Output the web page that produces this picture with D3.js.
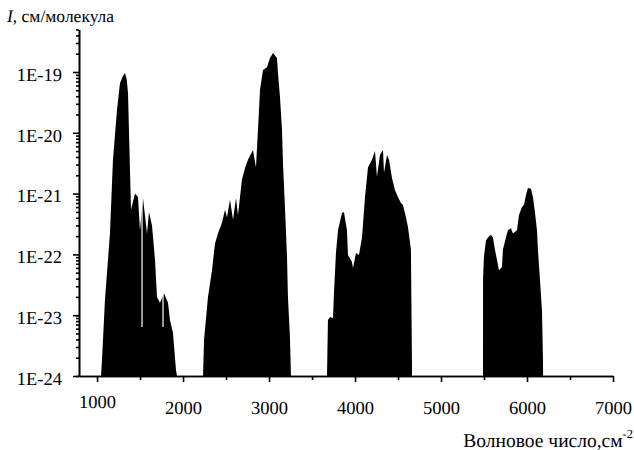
<!DOCTYPE html>
<meta charset="utf-8">
<html>
<head>
  <style>
    body { margin: 0; background: #fff; }
    svg { text-rendering: geometricPrecision; }
    .axis path, .axis line { stroke: #000; stroke-width: 1.6px; }
    .band { fill: #000; }
    .gap { stroke: #fff; stroke-width: 1.2px; }
  </style>
  <script src="https://d3js.org/d3.v7.min.js"></script>
</head>
<body>
  <svg width="634" height="450"></svg>
  <script>

    // envelope of each absorption band: wavenumber (cm-1) and intensity (cm/molecule)
    var band1Wn = [1046, 1057, 1092, 1150, 1185, 1232, 1267, 1300, 1325, 1345, 1360, 1383, 1395, 1441, 1476, 1499, 1534, 1581, 1604, 1639, 1674, 1697, 1732, 1778, 1825, 1848, 1883, 1918, 1930];
    var band1I  = [1e-24, 1.8e-24, 1.8e-23, 2.2e-22, 3.6e-21, 2.4e-20, 6.6e-20, 8.5e-20, 9.6e-20, 7.5e-20, 4.5e-20, 2.4e-21, 5.4e-22, 1.0e-21, 8.8e-22, 2.5e-22, 8.5e-22, 2.2e-22, 5.0e-22, 3.0e-22, 8.1e-23, 2.0e-23, 1.6e-23, 2.3e-23, 1.6e-23, 8.3e-24, 5.1e-24, 1.25e-24, 1e-24];

    var band2Wn = [2232, 2244, 2290, 2337, 2371, 2406, 2453, 2488, 2511, 2546, 2581, 2616, 2639, 2685, 2720, 2755, 2813, 2848, 2871, 2895, 2930, 2976, 3011, 3046, 3092, 3104, 3127, 3151, 3162, 3185, 3209, 3220, 3243, 3255];
    var band2I  = [1e-24, 3.9e-24, 2.0e-23, 5.5e-23, 1.5e-22, 2.2e-22, 3.3e-22, 5.4e-22, 4.1e-22, 7.9e-22, 3.7e-22, 8.5e-22, 4.4e-22, 1.7e-21, 2.6e-21, 3.6e-21, 5.2e-21, 2.7e-21, 1.1e-20, 5.1e-20, 1.08e-19, 1.2e-19, 1.7e-19, 2.06e-19, 1.7e-19, 9.6e-20, 3.9e-20, 1.1e-20, 3.2e-21, 6.0e-22, 9.1e-23, 2.0e-23, 4.4e-24, 1e-24];

    var band3Wn = [3674, 3685, 3709, 3744, 3755, 3778, 3802, 3848, 3871, 3906, 3918, 3964, 3976, 4011, 4046, 4081, 4116, 4151, 4197, 4232, 4255, 4290, 4325, 4337, 4372, 4395, 4430, 4464, 4499, 4534, 4557, 4592, 4616, 4650, 4662, 4663];
    var band3I  = [1e-24, 8.3e-24, 9.3e-24, 9.0e-24, 2.3e-23, 1.05e-22, 2.5e-22, 4.8e-22, 5.0e-22, 2.5e-22, 9.8e-23, 7.5e-23, 6.0e-23, 1.05e-22, 9.8e-23, 1.9e-22, 8.8e-22, 2.7e-21, 3.6e-21, 5.0e-21, 1.9e-21, 4.3e-21, 5.2e-21, 2.2e-21, 4.3e-21, 3.6e-21, 1.8e-21, 1.15e-21, 8.8e-22, 7.0e-22, 6.5e-22, 4.1e-22, 2.8e-22, 1.2e-22, 1.8e-24, 1e-24];

    var band4Wn = [5488, 5489, 5499, 5523, 5546, 5581, 5604, 5627, 5651, 5674, 5709, 5720, 5755, 5778, 5813, 5837, 5883, 5906, 5941, 5965, 5988, 6011, 6046, 6069, 6093, 6116, 6127, 6151, 6174, 6186, 6187];
    var band4I  = [1e-24, 4.2e-23, 9.1e-23, 1.7e-22, 1.9e-22, 2.1e-22, 1.9e-22, 1.2e-22, 8.1e-23, 5.5e-23, 6.2e-23, 1.2e-22, 1.9e-22, 2.5e-22, 2.7e-22, 2.2e-22, 2.5e-22, 4.4e-22, 6.0e-22, 6.5e-22, 9.5e-22, 1.24e-21, 1.2e-21, 8.8e-22, 4.8e-22, 2.5e-22, 1.2e-22, 3.8e-23, 1.2e-23, 1.8e-24, 1e-24];

    // thin white gaps between lines inside the first band
    var gapWn  = [1523, 1767];
    var gapTop = [8.5e-22, 2.3e-23];
    var gapBot = [6.4e-24, 6.4e-24];

    var xMajor = [1000, 2000, 3000, 4000, 5000, 6000, 7000];
    var xMinor = [1500, 2500, 3500, 4500, 5500, 6500];
    var yMajor = [1e-24, 1e-23, 1e-22, 1e-21, 1e-20, 1e-19];
    var yLabels = ["1E-24", "1E-23", "1E-22", "1E-21", "1E-20", "1E-19"];

    var font = "'Liberation Serif', 'Times New Roman', serif";

    var svg = d3.select("svg");

    var x = d3.scaleLinear().domain([790, 7000]).range([79, 613]);
    var y = d3.scaleLog().domain([1e-24, 5e-19]).range([376, 29.5]);

    var area = d3.area()
        .x(function(d) { return x(d[0]); })
        .y0(y(1e-24))
        .y1(function(d) { return y(d[1]); });

    [[band1Wn, band1I], [band2Wn, band2I], [band3Wn, band3I], [band4Wn, band4I]].forEach(function(b) {
        svg.append("path")
           .attr("class", "band")
           .attr("d", area(d3.zip(b[0], b[1])));
    });

    svg.selectAll(".gap")
       .data(d3.range(gapWn.length))
       .enter().append("line")
       .attr("class", "gap")
       .attr("x1", function(i) { return x(gapWn[i]); })
       .attr("x2", function(i) { return x(gapWn[i]); })
       .attr("y1", function(i) { return y(gapTop[i]); })
       .attr("y2", function(i) { return y(gapBot[i]); });

    // y axis: minor ticks then labelled decades
    var yMinor = y.ticks().filter(function(v) { return yMajor.indexOf(v) < 0; });
    svg.append("g")
       .attr("class", "axis")
       .attr("transform", "translate(79,0)")
       .call(d3.axisLeft(y).tickValues(yMinor).tickSize(3).tickFormat("").tickSizeOuter(0));

    svg.append("g")
       .attr("class", "axis")
       .attr("transform", "translate(79,0)")
       .call(d3.axisLeft(y).tickValues(yMajor).tickSize(6).tickSizeOuter(0)
             .tickFormat(function(d, i) { return yLabels[i]; }))
       .selectAll("text")
       .attr("x", -17)
       .attr("dy", "0.45em")
       .style("font-family", font)
       .style("font-size", "18.5px")
       .attr("fill", "#000");

    // x axis
    svg.append("g")
       .attr("class", "axis")
       .attr("transform", "translate(0,376)")
       .call(d3.axisBottom(x).tickValues(xMinor).tickSize(4).tickFormat("").tickSizeOuter(0));

    svg.append("g")
       .attr("class", "axis")
       .attr("transform", "translate(0,376)")
       .call(d3.axisBottom(x).tickValues(xMajor).tickSize(6).tickSizeOuter(0).tickFormat(d3.format("d")))
       .selectAll("text")
       .attr("y", function(d, i) { return i === 0 ? 32 : 38; })
       .attr("dy", 0)
       .style("font-family", font)
       .style("font-size", "18.5px")
       .attr("fill", "#000");

    // titles
    var t = svg.append("text")
       .attr("x", 7)
       .attr("y", 22)
       .style("font-family", font)
       .style("font-size", "17.5px");
    t.append("tspan").attr("font-style", "italic").text("I");
    t.append("tspan").text(", см/молекула");

    var xl = svg.append("text")
       .attr("x", 633)
       .attr("y", 447)
       .attr("text-anchor", "end")
       .style("font-family", font)
       .style("font-size", "19.5px");
    xl.append("tspan").text("Волновое число,см");
    xl.append("tspan").style("font-size", "12.5px").attr("dy", "-9").text("-2");

  </script>
</body>
</html>
